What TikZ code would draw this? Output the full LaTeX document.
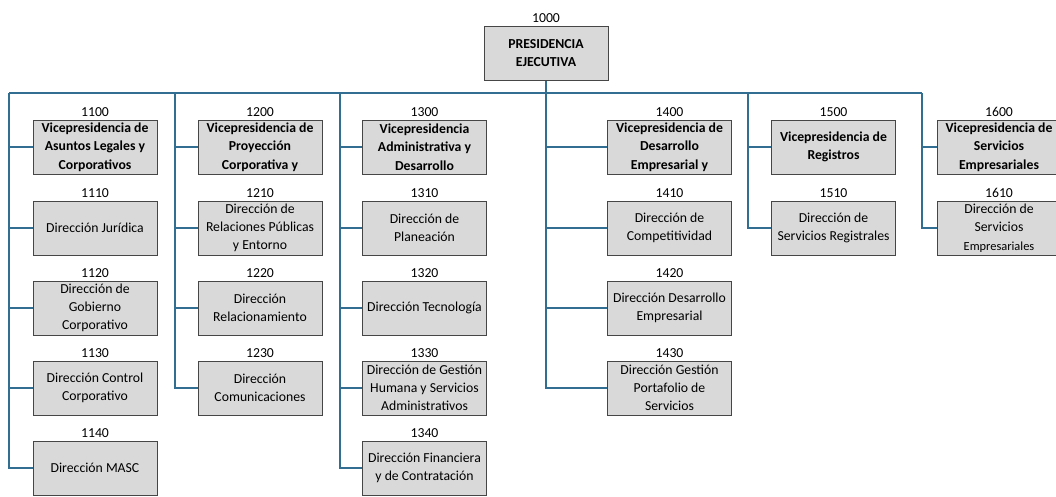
\documentclass[tikz,border=0pt]{standalone}
\usepackage{fontspec}
\setmainfont{Carlito}
\usetikzlibrary{positioning}
\definecolor{linkblue}{RGB}{49,110,145}
\definecolor{boxgray}{RGB}{217,217,217}
\definecolor{edgegray}{RGB}{70,70,70}
\tikzset{
  unit/.style={draw=edgegray, fill=boxgray, line width=0.75pt,
    minimum width=93pt, minimum height=40.5pt, inner sep=0pt,
    align=center, font=\fontsize{10.3}{13.7}\selectfont},
  vp/.style={unit, font=\fontsize{10.3}{13.7}\selectfont\bfseries},
  link/.style={draw=linkblue, line width=1.5pt},
  every label/.style={inner sep=2pt, font=\fontsize{10.3}{13.7}\selectfont}
}
\begin{document}
\begin{tikzpicture}[x=0.75pt,y=-0.75pt]
\useasboundingbox (0,0) rectangle (1056,496);
% presidencia
\node[vp, label={above:1000}] (n1000) at (546,53) {PRESIDENCIA\\EJECUTIVA};
% vicepresidencias
\node[vp, label={above:1100}] (n1100) at (95,147) {Vicepresidencia de\\Asuntos Legales y\\Corporativos};
\node[vp, label={above:1200}] (n1200) at (260,147) {Vicepresidencia de\\Proyección\\Corporativa y};
\node[vp, label={above:1300}] (n1300) at (424.5,147) {Vicepresidencia\\Administrativa y\\Desarrollo};
\node[vp, label={above:1400}] (n1400) at (669.5,147) {Vicepresidencia de\\Desarrollo\\Empresarial y};
\node[vp, label={above:1500}] (n1500) at (833.5,147) {Vicepresidencia de\\Registros};
\node[vp, label={above:1600}] (n1600) at (999,147) {Vicepresidencia de\\Servicios\\Empresariales};
% direcciones
\node[unit, label={above:1110}] (n1110) at (95,228) {Dirección Jurídica};
\node[unit, label={above:1120}] (n1120) at (95,308) {Dirección de\\Gobierno\\Corporativo};
\node[unit, label={above:1130}] (n1130) at (95,388) {Dirección Control\\Corporativo};
\node[unit, label={above:1140}] (n1140) at (95,468) {Dirección MASC};
\node[unit, label={above:1210}] (n1210) at (260,228) {Dirección de\\Relaciones Públicas\\y Entorno};
\node[unit, label={above:1220}] (n1220) at (260,308) {Dirección\\Relacionamiento};
\node[unit, label={above:1230}] (n1230) at (260,388) {Dirección\\Comunicaciones};
\node[unit, label={above:1310}] (n1310) at (424.5,228) {Dirección de\\Planeación};
\node[unit, label={above:1320}] (n1320) at (424.5,308) {Dirección Tecnología};
\node[unit, label={above:1330}] (n1330) at (424.5,388) {Dirección de Gestión\\Humana y Servicios\\Administrativos};
\node[unit, label={above:1340}] (n1340) at (424.5,468) {Dirección Financiera\\y de Contratación};
\node[unit, label={above:1410}] (n1410) at (669.5,228) {Dirección de\\Competitividad};
\node[unit, label={above:1420}] (n1420) at (669.5,308) {Dirección Desarrollo\\Empresarial};
\node[unit, label={above:1430}] (n1430) at (669.5,388) {Dirección Gestión\\Portafolio de\\Servicios};
\node[unit, label={above:1510}] (n1510) at (833.5,228) {Dirección de\\Servicios Registrales};
\node[unit, label={above:1610}] (n1610) at (999,228) {Dirección de\\Servicios\\{\fontsize{9.3}{12}\selectfont Empresariales}};
% bus
\coordinate (b1) at (9,93);
\coordinate (b2) at (175,93);
\coordinate (b3) at (340,93);
\coordinate (b4) at (546,93);
\coordinate (b5) at (748,93);
\coordinate (b6) at (922,93);
\draw[link] (n1000.south) -- (b4);
\draw[link] (b1) -- (b6);
\foreach \b/\kids in {b1/{1100,1110,1120,1130,1140}, b2/{1200,1210,1220,1230},
  b3/{1300,1310,1320,1330,1340}, b4/{1400,1410,1420,1430}, b5/{1500,1510}, b6/{1600,1610}}
{   \foreach \k in \kids
      \draw[link] (\b) |- (n\k.west);
}
\end{tikzpicture}
\end{document}
